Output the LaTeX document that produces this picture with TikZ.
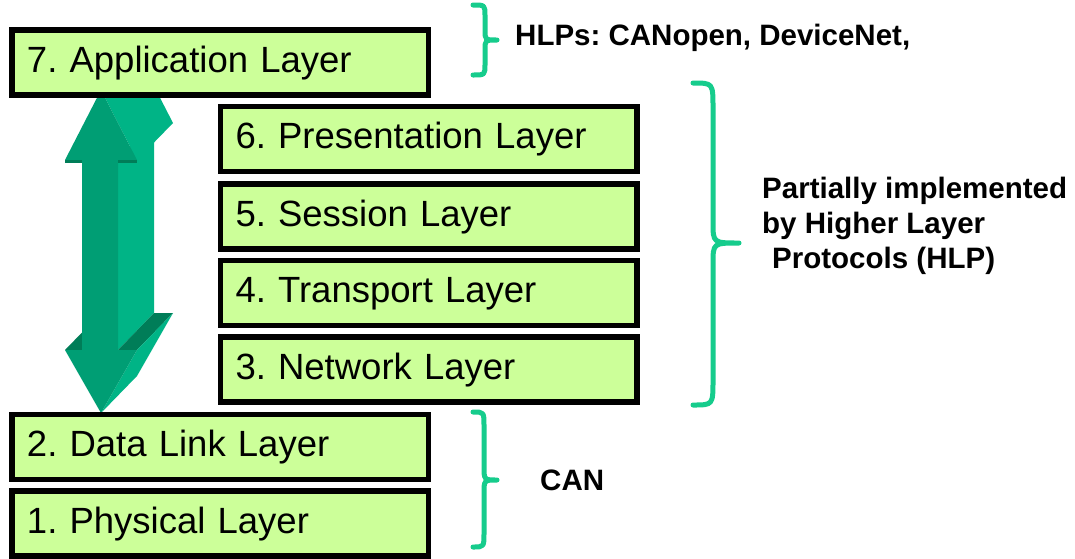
\documentclass[tikz,border=0pt]{standalone}
\usepackage{fontspec}
\setmainfont{Liberation Sans}
\usetikzlibrary{calc}
\definecolor{boxgreen}{RGB}{204,255,153}
\definecolor{bracegreen}{RGB}{22,204,140}
\definecolor{arrowfront}{RGB}{0,158,116}
\definecolor{arrowside}{RGB}{0,180,134}
\definecolor{arrowtop}{RGB}{0,125,88}
\frenchspacing
\begin{document}
\begin{tikzpicture}[x=1pt,y=-1pt,
  layerbox/.style={draw=black, line width=5.5pt, fill=boxgreen, rectangle,
    minimum width=416.5pt, minimum height=65pt, inner xsep=15.25pt, inner ysep=0pt,
    text width=386pt, align=left, font=\fontsize{36.5}{40}\selectfont\frenchspacing,
    text height=26.7pt, text depth=7.7pt},
  note/.style={inner sep=0pt, anchor=base west, font=\bfseries\fontsize{29.5}{34}\selectfont\frenchspacing},
  curly/.style={draw=bracegreen, line width=5pt, line cap=round, line join=round}]
\fill[white] (0,0) rectangle (1075,558);
\useasboundingbox (0,0) rectangle (1075,558);

% double arrow: front face corners
\coordinate (T)   at (101,90);
\coordinate (HR)  at (137,160);
\coordinate (SR)  at (118,160);
\coordinate (SR2) at (118,350);
\coordinate (BR)  at (137,350);
\coordinate (B)   at (101,413);
\coordinate (BL)  at (65,350);
\coordinate (SL2) at (82,350);
\coordinate (SL)  at (82,160);
\coordinate (HL)  at (65,160);
% extruded corners (depth offset up and to the right)
\coordinate (Te)   at ($(T)+(36,-37)$);
\coordinate (HRe)  at ($(HR)+(36,-37)$);
\coordinate (SRe)  at ($(SR)+(36,-37)$);
\coordinate (SR2e) at ($(SR2)+(36,-37)$);
\coordinate (BRe)  at ($(BR)+(36,-37)$);
\coordinate (Be)   at ($(B)+(36,-37)$);
\coordinate (BLe)  at ($(BL)+(36,-37)$);
\coordinate (SL2e) at ($(SL2)+(36,-37)$);

\fill[arrowtop]  (BL) -- (SL2) -- (SL2e) -- (BLe) -- cycle;
\fill[arrowside] (SR) -- (SR2) -- (SR2e) -- (SRe) -- cycle;
\fill[arrowtop]  (SR2) -- (BR) -- (BRe) -- (SR2e) -- cycle;
\fill[arrowside] (BR) -- (B) -- (Be) -- (BRe) -- cycle;
\fill[arrowside] (T) -- (HR) -- (HRe) -- (Te) -- cycle;
\fill[arrowfront] (T) -- (HR) -- (SR) -- (SR2) -- (BR) -- (B) -- (BL) -- (SL2) -- (SL) -- (HL) -- cycle;
% thin shaded rim under the upper head
\fill[arrowtop] (HL) -- (SL) -- ++(0,3) -- ($(HL)+(0,3)$) -- cycle;
\fill[arrowtop] (SR) -- (HR) -- ++(0,3) -- ($(SR)+(0,3)$) -- cycle;

% protocol stack
\node[layerbox] (l7) at (220,62.5)  {7. Application Layer};
\node[layerbox] (l6) at (428.5,139) {6. Presentation Layer};
\node[layerbox] (l5) at (428.5,216.5) {5. Session Layer};
\node[layerbox] (l4) at (428.5,293) {4. Transport Layer};
\node[layerbox] (l3) at (428.5,369.5) {3. Network Layer};
\node[layerbox] (l2) at (220,447)   {2. Data Link Layer};
\node[layerbox] (l1) at (220,523.5) {1. Physical Layer};

% braces
\draw[curly] (473,5) .. controls (485,5) .. (485,16) -- (485,30)
  .. controls (485,40) .. (497,40) .. controls (485,40) .. (485,50)
  -- (485,64) .. controls (485,75) .. (473,75);
\draw[curly] (693,83) .. controls (713,83) .. (713,108) -- (713,222)
  .. controls (713,243) .. (739,243) .. controls (713,243) .. (713,264)
  -- (713,380) .. controls (713,405) .. (693,405);
\draw[curly] (473,412) .. controls (484,412) .. (484,426) -- (484,466)
  .. controls (484,480) .. (497,480) .. controls (484,480) .. (484,494)
  -- (484,533) .. controls (484,547) .. (473,547);

% annotations
\node[note] (hlps) at (515,45) {HLPs: CANopen, DeviceNet,};
\node[note] (part1) at (762,198) {Partially implemented};
\node[note] (part2) at (762,233) {by Higher Layer};
\node[note] (part3) at (772,268) {Protocols (HLP)};
\node[note] (can) at (540,490) {CAN};
\end{tikzpicture}
\end{document}
